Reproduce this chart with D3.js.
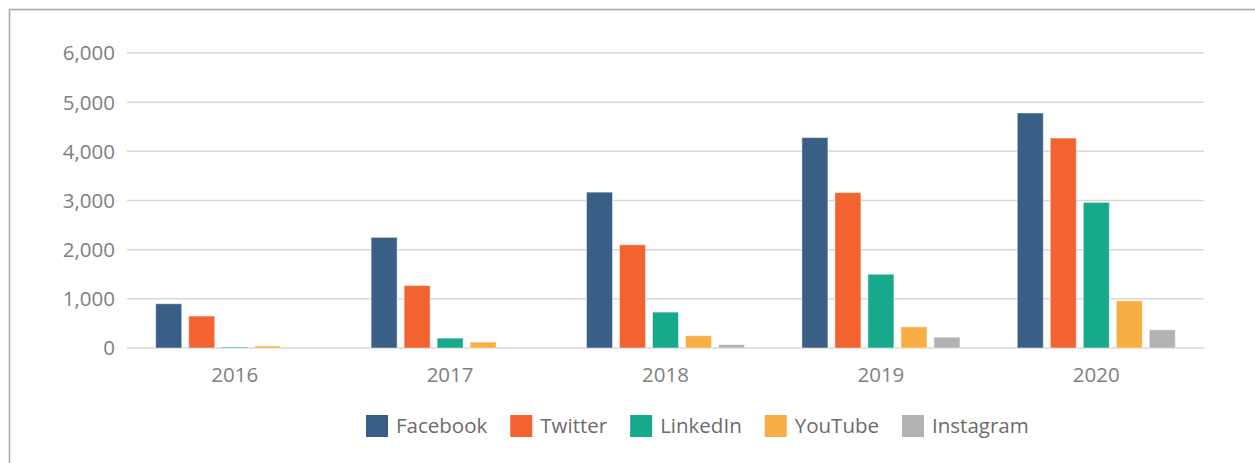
<!DOCTYPE html>
<html>
<head>
<meta charset="utf-8">
<script src="https://cdn.jsdelivr.net/npm/d3@7"></script>
<style>
  html, body { margin: 0; padding: 0; background: #fff; }
  svg { display: block; font-family: "Open Sans", sans-serif; }
</style>
</head>
<body>
<svg id="chart" width="1255" height="463"></svg>
<script>
'use strict'
// values
var years = ["2016", "2017", "2018", "2019", "2020"];
var seriesNames = ["Facebook", "Twitter", "LinkedIn", "YouTube", "Instagram"];
var facebook  = [900, 2250, 3170, 4280, 4780];
var twitter   = [650, 1270, 2100, 3160, 4270];
var linkedin  = [20, 200, 730, 1500, 2960];
var youtube   = [40, 120, 250, 430, 960];
var instagram = [0, 0, 70, 220, 370];
var yTicks = [0, 1000, 2000, 3000, 4000, 5000, 6000];
var colors = ["#3a5f87", "#f26330", "#17a98c", "#f7ae42", "#b1b2b4"];

var seriesValues = [facebook, twitter, linkedin, youtube, instagram];

var svg = d3.select("#chart");

// outer frame (only left and top edges visible in the picture)
svg.append("path")
   .attr("d", "M9.5,463 L9.5,9.5 L1255,9.5")
   .attr("fill", "none")
   .attr("stroke", "#a6a6a6")
   .attr("stroke-width", 1.5);

var plot = {left: 127, right: 1204, top: 53, bottom: 348};

var x = d3.scaleBand()
          .domain(years)
          .range([plot.left, plot.right])
          .paddingInner(0).paddingOuter(0);

var groupPad = 28.7;
var xs = d3.scaleBand()
           .domain(seriesNames)
           .range([groupPad, x.bandwidth() - groupPad])
           .paddingInner(7 / 33);

var y = d3.scaleLinear()
          .domain([0, 6000])
          .range([plot.bottom, plot.top]);

// gridlines
svg.append("g").attr("class", "grid")
   .selectAll("line")
   .data(yTicks).enter()
   .append("line")
     .attr("x1", plot.left).attr("x2", plot.right)
     .attr("y1", d => y(d)).attr("y2", d => y(d))
     .attr("stroke", "#d9d9d9")
     .attr("stroke-width", 1.5);

// y axis labels
var fmt = d3.format(",");
svg.append("g").attr("class", "y-labels")
   .selectAll("text")
   .data(yTicks).enter()
   .append("text")
     .attr("x", 115)
     .attr("y", d => y(d))
     .attr("dy", "0.36em")
     .attr("text-anchor", "end")
     .attr("fill", "#808080")
     .style("font-size", "20.5px")
     .text(d => fmt(d));

// bars
var flat = [];
years.forEach(function(yr, i){
  seriesNames.forEach(function(s, j){
    flat.push({year: yr, series: s, value: seriesValues[j][i], color: colors[j]});
  });
});

svg.append("g").attr("class", "bars")
   .selectAll("rect")
   .data(flat).enter()
   .append("rect")
     .attr("x", d => x(d.year) + xs(d.series))
     .attr("y", d => y(d.value))
     .attr("width", xs.bandwidth())
     .attr("height", d => y(0) - y(d.value))
     .attr("fill", d => d.color)
     .attr("stroke", "#ffffff")
     .attr("stroke-opacity", 0.45)
     .attr("stroke-width", 1);

// category labels
svg.append("g").attr("class", "x-labels")
   .selectAll("text")
   .data(years).enter()
   .append("text")
     .attr("x", d => x(d) + x.bandwidth() / 2)
     .attr("y", 382)
     .attr("text-anchor", "middle")
     .attr("fill", "#808080")
     .style("font-size", "20.5px")
     .text(d => d);

// legend
var legend = svg.append("g").attr("class", "legend");
var items = legend.selectAll("g")
   .data(seriesNames).enter()
   .append("g");
items.append("rect")
     .attr("width", 22).attr("height", 22)
     .attr("y", 415)
     .attr("fill", (d, i) => colors[i]);
items.append("text")
     .attr("x", 30)
     .attr("y", 426)
     .attr("dy", "0.36em")
     .attr("fill", "#6b6b6b")
     .style("font-size", "20.5px")
     .text(d => d);

var pos = 366;
items.each(function(d){
  d3.select(this).attr("transform", "translate(" + pos + ",0)");
  var w = d3.select(this).select("text").node().getComputedTextLength();
  pos += 30 + w + 23;
});
</script>
</body>
</html>
